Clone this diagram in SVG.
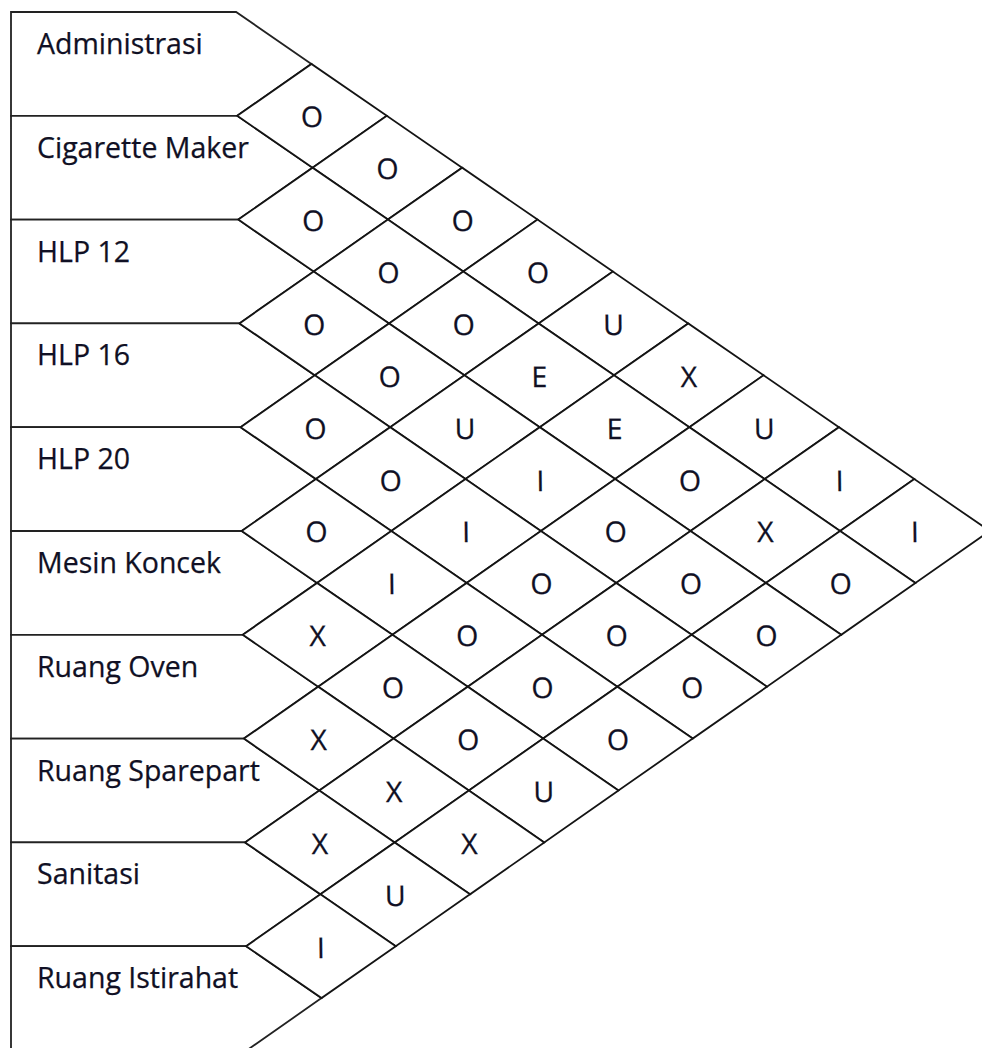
<svg xmlns="http://www.w3.org/2000/svg" xmlns:xlink="http://www.w3.org/1999/xlink" width="982" height="1048" viewBox="0 0 982 1048">
<style>
.dept{fill:#fff;stroke:#222;stroke-width:1.8}
.dia{fill:#fff;stroke:#141414;stroke-width:1.8}
.lbl{font-family:"Open Sans","Liberation Sans",sans-serif;font-size:28.5px;fill:#101024;stroke:#101024;stroke-width:0.25}
.rel{font-family:"Open Sans","Liberation Sans",sans-serif;font-size:28.5px;fill:#101024;stroke:#101024;stroke-width:0.25;text-anchor:middle}
</style>
<defs>
<polygon id="d" class="dia" points="-74.8,0 0,-51.9 74.8,0 0,51.9"/>
</defs>
<rect width="982" height="1048" fill="#fff"/>
<g id="departments">
<g id="dept-administrasi"><polygon class="dept" points="11,12 236.1,12 311.4,63.9 237.2,115.8 11,115.8"/><text class="lbl" x="37" y="54">Administrasi</text></g>
<g id="dept-cigarette-maker"><polygon class="dept" points="11,115.8 237.2,115.8 312.6,167.7 238.3,219.6 11,219.6"/><text class="lbl" x="37" y="157.8">Cigarette Maker</text></g>
<g id="dept-hlp12"><polygon class="dept" points="11,219.6 238.3,219.6 313.7,271.5 239.4,323.4 11,323.4"/><text class="lbl" x="37" y="261.6">HLP 12</text></g>
<g id="dept-hlp16"><polygon class="dept" points="11,323.4 239.4,323.4 314.8,375.3 240.6,427.2 11,427.2"/><text class="lbl" x="37" y="365.4">HLP 16</text></g>
<g id="dept-hlp20"><polygon class="dept" points="11,427.2 240.6,427.2 315.9,479.1 241.7,531 11,531"/><text class="lbl" x="37" y="469.2">HLP 20</text></g>
<g id="dept-mesin-koncek"><polygon class="dept" points="11,531 241.7,531 317,582.9 242.8,634.8 11,634.8"/><text class="lbl" x="37" y="573">Mesin Koncek</text></g>
<g id="dept-ruang-oven"><polygon class="dept" points="11,634.8 242.8,634.8 318.2,686.7 243.9,738.6 11,738.6"/><text class="lbl" x="37" y="676.8">Ruang Oven</text></g>
<g id="dept-ruang-sparepart"><polygon class="dept" points="11,738.6 243.9,738.6 319.3,790.5 245,842.4 11,842.4"/><text class="lbl" x="37" y="780.6">Ruang Sparepart</text></g>
<g id="dept-sanitasi"><polygon class="dept" points="11,842.4 245,842.4 320.4,894.3 246.2,946.2 11,946.2"/><text class="lbl" x="37" y="884.4">Sanitasi</text></g>
<g id="dept-ruang-istirahat"><polygon class="dept" points="11,946.2 246.2,946.2 321.5,998.1 247.3,1050 11,1050"/><text class="lbl" x="37" y="988.2">Ruang Istirahat</text></g>
</g>
<g id="relations" transform="matrix(1 0 0.0108 1 -1.2528 0)">
<g id="r-0-1"><use href="#d" x="312" y="115.8"/><text class="rel" x="312" y="127.3">O</text></g>
<g id="r-0-2"><use href="#d" x="386.8" y="167.7"/><text class="rel" x="386.8" y="179.2">O</text></g>
<g id="r-1-2"><use href="#d" x="312" y="219.6"/><text class="rel" x="312" y="231.1">O</text></g>
<g id="r-0-3"><use href="#d" x="461.6" y="219.6"/><text class="rel" x="461.6" y="231.1">O</text></g>
<g id="r-1-3"><use href="#d" x="386.8" y="271.5"/><text class="rel" x="386.8" y="283">O</text></g>
<g id="r-0-4"><use href="#d" x="536.4" y="271.5"/><text class="rel" x="536.4" y="283">O</text></g>
<g id="r-2-3"><use href="#d" x="312" y="323.4"/><text class="rel" x="312" y="334.9">O</text></g>
<g id="r-1-4"><use href="#d" x="461.6" y="323.4"/><text class="rel" x="461.6" y="334.9">O</text></g>
<g id="r-0-5"><use href="#d" x="611.2" y="323.4"/><text class="rel" x="611.2" y="334.9">U</text></g>
<g id="r-2-4"><use href="#d" x="386.8" y="375.3"/><text class="rel" x="386.8" y="386.8">O</text></g>
<g id="r-1-5"><use href="#d" x="536.4" y="375.3"/><text class="rel" x="536.4" y="386.8">E</text></g>
<g id="r-0-6"><use href="#d" x="686" y="375.3"/><text class="rel" x="686" y="386.8">X</text></g>
<g id="r-3-4"><use href="#d" x="312" y="427.2"/><text class="rel" x="312" y="438.7">O</text></g>
<g id="r-2-5"><use href="#d" x="461.6" y="427.2"/><text class="rel" x="461.6" y="438.7">U</text></g>
<g id="r-1-6"><use href="#d" x="611.2" y="427.2"/><text class="rel" x="611.2" y="438.7">E</text></g>
<g id="r-0-7"><use href="#d" x="760.8" y="427.2"/><text class="rel" x="760.8" y="438.7">U</text></g>
<g id="r-3-5"><use href="#d" x="386.8" y="479.1"/><text class="rel" x="386.8" y="490.6">O</text></g>
<g id="r-2-6"><use href="#d" x="536.4" y="479.1"/><text class="rel" x="536.4" y="490.6">I</text></g>
<g id="r-1-7"><use href="#d" x="686" y="479.1"/><text class="rel" x="686" y="490.6">O</text></g>
<g id="r-0-8"><use href="#d" x="835.6" y="479.1"/><text class="rel" x="835.6" y="490.6">I</text></g>
<g id="r-4-5"><use href="#d" x="312" y="531"/><text class="rel" x="312" y="542.5">O</text></g>
<g id="r-3-6"><use href="#d" x="461.6" y="531"/><text class="rel" x="461.6" y="542.5">I</text></g>
<g id="r-2-7"><use href="#d" x="611.2" y="531"/><text class="rel" x="611.2" y="542.5">O</text></g>
<g id="r-1-8"><use href="#d" x="760.8" y="531"/><text class="rel" x="760.8" y="542.5">X</text></g>
<g id="r-0-9"><use href="#d" x="910.4" y="531"/><text class="rel" x="910.4" y="542.5">I</text></g>
<g id="r-4-6"><use href="#d" x="386.8" y="582.9"/><text class="rel" x="386.8" y="594.4">I</text></g>
<g id="r-3-7"><use href="#d" x="536.4" y="582.9"/><text class="rel" x="536.4" y="594.4">O</text></g>
<g id="r-2-8"><use href="#d" x="686" y="582.9"/><text class="rel" x="686" y="594.4">O</text></g>
<g id="r-1-9"><use href="#d" x="835.6" y="582.9"/><text class="rel" x="835.6" y="594.4">O</text></g>
<g id="r-5-6"><use href="#d" x="312" y="634.8"/><text class="rel" x="312" y="646.3">X</text></g>
<g id="r-4-7"><use href="#d" x="461.6" y="634.8"/><text class="rel" x="461.6" y="646.3">O</text></g>
<g id="r-3-8"><use href="#d" x="611.2" y="634.8"/><text class="rel" x="611.2" y="646.3">O</text></g>
<g id="r-2-9"><use href="#d" x="760.8" y="634.8"/><text class="rel" x="760.8" y="646.3">O</text></g>
<g id="r-5-7"><use href="#d" x="386.8" y="686.7"/><text class="rel" x="386.8" y="698.2">O</text></g>
<g id="r-4-8"><use href="#d" x="536.4" y="686.7"/><text class="rel" x="536.4" y="698.2">O</text></g>
<g id="r-3-9"><use href="#d" x="686" y="686.7"/><text class="rel" x="686" y="698.2">O</text></g>
<g id="r-6-7"><use href="#d" x="312" y="738.6"/><text class="rel" x="312" y="750.1">X</text></g>
<g id="r-5-8"><use href="#d" x="461.6" y="738.6"/><text class="rel" x="461.6" y="750.1">O</text></g>
<g id="r-4-9"><use href="#d" x="611.2" y="738.6"/><text class="rel" x="611.2" y="750.1">O</text></g>
<g id="r-6-8"><use href="#d" x="386.8" y="790.5"/><text class="rel" x="386.8" y="802">X</text></g>
<g id="r-5-9"><use href="#d" x="536.4" y="790.5"/><text class="rel" x="536.4" y="802">U</text></g>
<g id="r-7-8"><use href="#d" x="312" y="842.4"/><text class="rel" x="312" y="853.9">X</text></g>
<g id="r-6-9"><use href="#d" x="461.6" y="842.4"/><text class="rel" x="461.6" y="853.9">X</text></g>
<g id="r-7-9"><use href="#d" x="386.8" y="894.3"/><text class="rel" x="386.8" y="905.8">U</text></g>
<g id="r-8-9"><use href="#d" x="312" y="946.2"/><text class="rel" x="312" y="957.7">I</text></g>
</g>
</svg>
